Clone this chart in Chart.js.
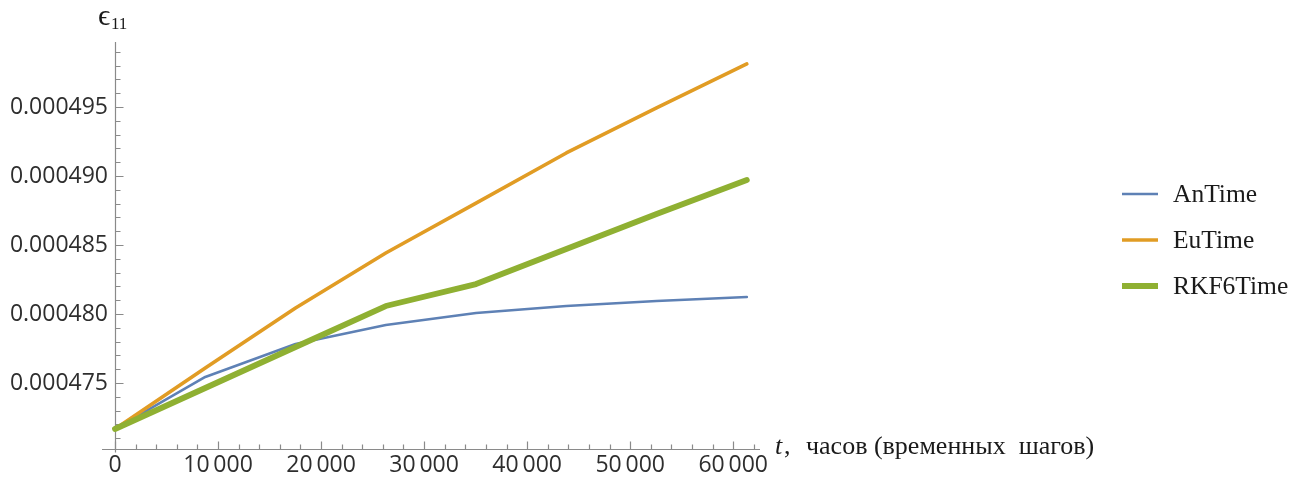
<!DOCTYPE html>
<html>
<head>
<meta charset="utf-8">
<script src="https://cdn.jsdelivr.net/npm/chart.js@4.4.1/dist/chart.umd.min.js"></script>
<style>
  html, body { margin: 0; padding: 0; background: #ffffff; }
  #wrap { width: 1299px; height: 479px; position: relative; }
  canvas { display: block; }
</style>
</head>
<body>
<div id="wrap"><canvas id="c" width="1299" height="479"></canvas></div>
<script>
// ---- data ----
const timeSteps = [0, 8760, 17520, 26280, 35040, 43800, 52560, 61320];
const anTime    = [0.00047167, 0.00047544, 0.00047783, 0.00047920, 0.00048007, 0.00048058, 0.00048094, 0.00048123];
const euTime    = [0.00047167, 0.00047609, 0.00048044, 0.00048442, 0.00048804, 0.00049167, 0.00049493, 0.00049812];
const rkf6Time  = [0.00047167, 0.00047464, 0.00047761, 0.00048058, 0.00048217, 0.00048471, 0.00048725, 0.00048971];
const seriesNames = ['AnTime', 'EuTime', 'RKF6Time'];

const xMajorTicks  = [0, 10000, 20000, 30000, 40000, 50000, 60000];
const xTickLabels  = ['0', '10\u2009000', '20\u2009000', '30\u2009000', '40\u2009000', '50\u2009000', '60\u2009000'];
const yMajorTicks  = [0.000475, 0.000480, 0.000485, 0.000490, 0.000495];
const yTickLabels  = ['0.000475', '0.000480', '0.000485', '0.000490', '0.000495'];
const xMinorStep = 2000, yMinorStep = 0.000001;

const yAxisTitleMain = '\u03F5';
const yAxisTitleSub = '11';
const xAxisTitleVar = 't';
const xAxisTitleRest = 'часов (временных  шагов)';

// ---- ranges / styles ----
const X_MIN = 0, X_MAX = 62600, X_AXIS_START = -1260;
const Y_MIN = 0.00047022, Y_MAX = 0.00049971;
const colors = ['#5E81B5', '#E19C24', '#8FB032'];
const widths = [2.6, 3.6, 5.8];
const axisColor = '#8a8a8a';
const tickFont = { family: '"Open Sans", "DejaVu Sans", sans-serif', size: 23 };
const tickColor = '#2e2e2e';
const serif = '"Liberation Serif", "Times New Roman", serif';

const toPts = arr => arr.map((v, i) => ({ x: timeSteps[i], y: v }));
const seriesValues = [anTime, euTime, rkf6Time];

const datasets = seriesValues.map((vals, i) => ({
  label: seriesNames[i],
  data: toPts(vals),
  borderColor: colors[i],
  backgroundColor: colors[i],
  borderWidth: widths[i],
  pointRadius: 0,
  tension: 0,
  fill: false,
  clip: false,
  borderJoinStyle: 'round',
  borderCapStyle: 'round',
  order: 2 - i
}));

const mmaAxes = {
  id: 'mmaAxes',
  beforeDatasetsDraw(chart) {
    const { ctx, scales: { x, y } } = chart;
    const x0 = Math.round(x.getPixelForValue(0)) + 0.5;
    const yb = Math.round(y.getPixelForValue(Y_MIN)) + 0.5;
    ctx.save();
    ctx.strokeStyle = axisColor;
    ctx.lineWidth = 1.2;
    ctx.beginPath();
    ctx.moveTo(x.getPixelForValue(X_AXIS_START), yb);
    ctx.lineTo(x.right, yb);
    ctx.moveTo(x0, y.top);
    ctx.lineTo(x0, yb + 3);
    ctx.stroke();
    // x ticks (pointing up)
    ctx.beginPath();
    for (let v = 0; v <= X_MAX + 1; v += xMinorStep) {
      const px = Math.round(x.getPixelForValue(v)) + 0.5;
      const major = xMajorTicks.includes(v);
      ctx.moveTo(px, yb);
      ctx.lineTo(px, yb - (major ? 8 : 5));
    }
    // y ticks (pointing right)
    for (let k = Math.ceil(Y_MIN / yMinorStep - 1e-6); k * yMinorStep <= Y_MAX + 1e-12; k++) {
      const v = k * yMinorStep;
      const py = Math.round(y.getPixelForValue(v)) + 0.5;
      const major = k % 5 === 0;
      ctx.moveTo(x0, py);
      ctx.lineTo(x0 + (major ? 8 : 5), py);
    }
    ctx.stroke();
    ctx.restore();
  },
  afterDraw(chart) {
    const { ctx } = chart;
    ctx.save();
    ctx.fillStyle = '#1a1a1a';
    ctx.textBaseline = 'alphabetic';
    // y axis title
    ctx.font = '30px ' + serif;
    ctx.fillText(yAxisTitleMain, 98, 25);
    ctx.font = '17px ' + serif;
    ctx.fillText(yAxisTitleSub, 111, 29);
    // x axis title
    ctx.font = 'italic 26px ' + serif;
    ctx.fillText(xAxisTitleVar, 775, 454);
    ctx.font = '26px ' + serif;
    ctx.fillText(',', 784, 454);
    ctx.fillText(xAxisTitleRest, 806, 454);
    // legend
    const rows = [194, 240, 286];
    seriesNames.forEach((name, i) => {
      ctx.strokeStyle = colors[i];
      ctx.lineWidth = widths[i];
      ctx.beginPath();
      ctx.moveTo(1122, rows[i]);
      ctx.lineTo(1158, rows[i]);
      ctx.stroke();
      ctx.fillStyle = '#1a1a1a';
      ctx.font = '25.5px ' + serif;
      ctx.textBaseline = 'middle';
      ctx.fillText(name, 1173, rows[i] + 1);
    });
    ctx.restore();
  }
};

new Chart(document.getElementById('c'), {
  type: 'line',
  data: { datasets },
  options: {
    responsive: false,
    animation: false,
    devicePixelRatio: 1,
    layout: { padding: { left: 0, top: 42, right: 539, bottom: 0 } },
    plugins: { legend: { display: false }, tooltip: { enabled: false } },
    scales: {
      x: {
        type: 'linear', min: X_MIN, max: X_MAX,
        afterFit(s) { s.height = 30; },
        afterBuildTicks(s) { s.ticks = xMajorTicks.map(v => ({ value: v })); },
        ticks: { callback: (v, i) => xTickLabels[i], font: tickFont, color: tickColor, padding: 3, maxRotation: 0, autoSkip: false },
        grid: { display: false, drawTicks: false }, border: { display: false }
      },
      y: {
        type: 'linear', min: Y_MIN, max: Y_MAX,
        afterFit(s) { s.width = 115; },
        afterBuildTicks(s) { s.ticks = yMajorTicks.map(v => ({ value: v })); },
        ticks: { callback: (v, i) => yTickLabels[i], font: tickFont, color: tickColor, padding: 7, autoSkip: false },
        grid: { display: false, drawTicks: false }, border: { display: false }
      }
    }
  },
  plugins: [mmaAxes]
});
</script>
</body>
</html>
